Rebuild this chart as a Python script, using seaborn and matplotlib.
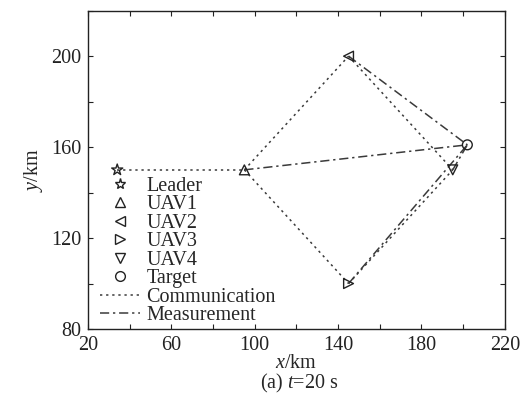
import matplotlib
matplotlib.use("Agg")
import matplotlib.pyplot as plt
from matplotlib.lines import Line2D
import seaborn as sns
import pandas as pd

# Agent positions at t = 20 s (km)
agents = ["Leader", "UAV1", "UAV2", "UAV3", "UAV4", "Target"]
pos_x = [34, 95, 145, 145, 195, 202]
pos_y = [150, 150, 200, 100, 150, 161]
markers = ["*", "^", "<", ">", "v", "o"]

# Links between agents
comm_links = [("Leader", "UAV1"), ("UAV1", "UAV2"), ("UAV1", "UAV3"),
              ("UAV2", "UAV4"), ("UAV3", "UAV4")]
meas_links = [("UAV1", "Target"), ("UAV2", "Target"),
              ("UAV3", "Target"), ("UAV4", "Target")]

x_ticks = [20, 40, 60, 80, 100, 120, 140, 160, 180, 200, 220]
x_labels = ["20", "", "60", "", "100", "", "140", "", "180", "", "220"]
y_ticks = [80, 100, 120, 140, 160, 180, 200, 220]
y_labels = ["80", "", "120", "", "160", "", "200", ""]

sns.set_style("ticks")
plt.rcParams["font.family"] = ["Liberation Serif", "DejaVu Serif"]
plt.rcParams["mathtext.fontset"] = "custom"
plt.rcParams["mathtext.it"] = "Liberation Serif:italic"
plt.rcParams["mathtext.rm"] = "Liberation Serif"

df = pd.DataFrame({"agent": agents, "x": pos_x, "y": pos_y})
loc = {a: (x, y) for a, x, y in zip(agents, pos_x, pos_y)}

fig = plt.figure(figsize=(5.21, 3.95), dpi=100)
ax = fig.add_axes([0.169, 0.167, 0.800, 0.806])

line_col = "#3a3a3a"
comm_style = dict(linestyle=(0, (1.5, 2.5)), linewidth=1.1)
meas_style = dict(linestyle=(0, (6, 2.5, 1.5, 2.5)), linewidth=1.1)

for a, b in comm_links:
    seg = pd.DataFrame({"x": [loc[a][0], loc[b][0]], "y": [loc[a][1], loc[b][1]]})
    sns.lineplot(data=seg, x="x", y="y", sort=False, estimator=None,
                 color=line_col, ax=ax, **comm_style)
for a, b in meas_links:
    seg = pd.DataFrame({"x": [loc[a][0], loc[b][0]], "y": [loc[a][1], loc[b][1]]})
    sns.lineplot(data=seg, x="x", y="y", sort=False, estimator=None,
                 color=line_col, ax=ax, **meas_style)

for name, m in zip(agents, markers):
    sub = df[df["agent"] == name]
    sns.scatterplot(data=sub, x="x", y="y", marker=m, s=50 if m != "*" else 70,
                    facecolors="none", edgecolor="#222222", linewidth=1.0,
                    ax=ax, zorder=5)

ax.set_xlim(20, 220)
ax.set_ylim(80, 220)
ax.set_xticks(x_ticks)
ax.set_xticklabels(x_labels)
ax.set_yticks(y_ticks)
ax.set_yticklabels(y_labels)
ax.tick_params(direction="in", top=True, right=True, length=3.5, width=0.8,
               labelsize=14.5, pad=5, colors="#222222")
for s in ax.spines.values():
    s.set_linewidth(1.0)
    s.set_color("#222222")

ax.set_xlabel(r"$\mathit{x}$/km", fontsize=14.5, labelpad=-1)
ax.set_ylabel(r"$\mathit{y}$/km", fontsize=14.5, labelpad=4)
fig.text(0.575, 0.0, r"(a) $\mathit{t}$=20 s", ha="center", va="bottom",
         fontsize=14.5)

handles = []
for name, m in zip(agents, markers):
    handles.append(Line2D([], [], linestyle="none", marker=m,
                          markersize=7 if m != "*" else 8,
                          markerfacecolor="none", markeredgecolor="#222222",
                          markeredgewidth=1.0, label=name))
handles.append(Line2D([], [], color=line_col, label="Communication", **comm_style))
handles.append(Line2D([], [], color=line_col, label="Measurement", **meas_style))

ax.legend(handles=handles, loc="lower left", bbox_to_anchor=(0.0, -0.026),
          frameon=False, fontsize=14.5, handlelength=2.0, handletextpad=0.3,
          labelspacing=-0.03, borderaxespad=0.2)

fig.savefig("out.png", dpi=100)
